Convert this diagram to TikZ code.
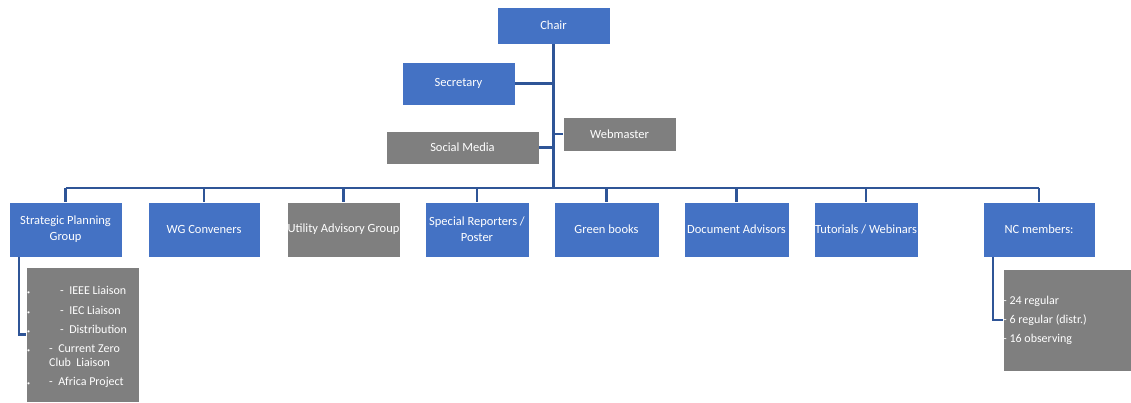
\documentclass[tikz,border=0pt]{standalone}
\usepackage{fontspec}
\setmainfont{Carlito}
\usetikzlibrary{positioning}
\definecolor{boxblue}{HTML}{4472C4}
\definecolor{boxgray}{HTML}{7F7F7F}
\definecolor{linkblue}{HTML}{2F5597}

\begin{document}
\begin{tikzpicture}[x=1pt,y=-1pt,
    unit/.style={draw=white, thin, text=white, align=center, inner sep=0pt, minimum width=113pt, minimum height=55pt, font=\fontsize{12.5}{16}\selectfont},
    blueunit/.style={unit, fill=boxblue},
    grayunit/.style={unit, fill=boxgray},
    link/.style={draw=linkblue, line width=2.2pt},
    item/.style={anchor=base west, inner sep=0pt, text=white, font=\fontsize{12}{14}\selectfont},
    dot/.style={item, font=\fontsize{6}{7}\selectfont}]
    \fill[white] (0,0) rectangle (1131,402);
    \useasboundingbox (0,0) rectangle (1131,402);

    % top of the chart
    \node[blueunit, minimum height=37pt] (chair) at (553.5,25.5) {Chair};
    \node[blueunit, minimum height=43pt] (secretary) at (458.5,83.5) {Secretary};
    \node[grayunit, minimum width=153pt, minimum height=33pt] (socialmedia) at (462.5,147.5) {Social Media};
    \node[grayunit, minimum height=34pt] (webmaster) at (619.5,134) {Webmaster};
    \coordinate (bus) at (553.5,188);

    \draw[link] (chair) -- (bus);
    \draw[link] (secretary.east) -- (secretary.east -| bus);
    \draw[link] (socialmedia.east) -- (socialmedia.east -| bus);
    \draw[link] (webmaster.west) -- (webmaster.west -| bus);

    % second row
    \node[blueunit] (strategic) at (65.5,229.5) {Strategic Planning\\Group};
    \node[blueunit, minimum width=112pt] (wgconv) at (204,229.5) {WG Conveners};
    \node[grayunit] (utility) at (343.5,229.5) {Utility Advisory Group};
    \node[blueunit, minimum width=104pt] (special) at (477,229.5) {Special Reporters /\\Poster};
    \node[blueunit, minimum width=105pt] (greenbooks) at (606.5,229.5) {Green books};
    \node[blueunit, minimum width=105pt] (docadv) at (736.5,229.5) {Document Advisors};
    \node[blueunit, minimum width=104pt] (tutorials) at (866,229.5) {Tutorials / Webinars};
    \node[blueunit, minimum width=112pt] (ncmembers) at (1039,229.5) {NC members:};

    \draw[link, line width=1.6pt] (bus -| strategic) -- (bus -| ncmembers);
    \foreach \n in {strategic,wgconv,utility,special,greenbooks,docadv,tutorials,ncmembers}
        \draw[link] (bus -| \n) -- (\n);

    % sub boxes
    \node[grayunit, minimum height=135pt] (spgsub) at (82.5,334.5) {};
    \node[grayunit, minimum width=128pt, minimum height=102pt] (ncsub) at (1067,320) {};

    \draw[link] ([xshift=10pt]strategic.south west) |- (spgsub.west);
    \draw[link] ([xshift=10pt]ncmembers.south west) |- (ncsub.west);

    \foreach \y [count=\i] in {294.5,314.5,333.5,352.5,385.5}
        \node[dot] (spgdot\i) at (27,\y) {\textbullet};
    \foreach \x/\y/\t [count=\i] in {60/294.5/{-\ \ IEEE Liaison}, 60/314.5/{-\ \ IEC Liaison},
        60/333.5/{-\ \ Distribution}, 49/352.5/{-\ \ Current Zero}, 49/366.5/{Club\ \ Liaison},
        49/385.5/{-\ \ Africa Project}}
        \node[item] (spg\i) at (\x,\y) {\t};

    \foreach \y/\t [count=\i] in {304.5/24 regular, 323.5/6 regular (distr.), 342.5/16 observing}
        \node[item] (nc\i) at (1003,\y) {- \t};
\end{tikzpicture}
\end{document}
